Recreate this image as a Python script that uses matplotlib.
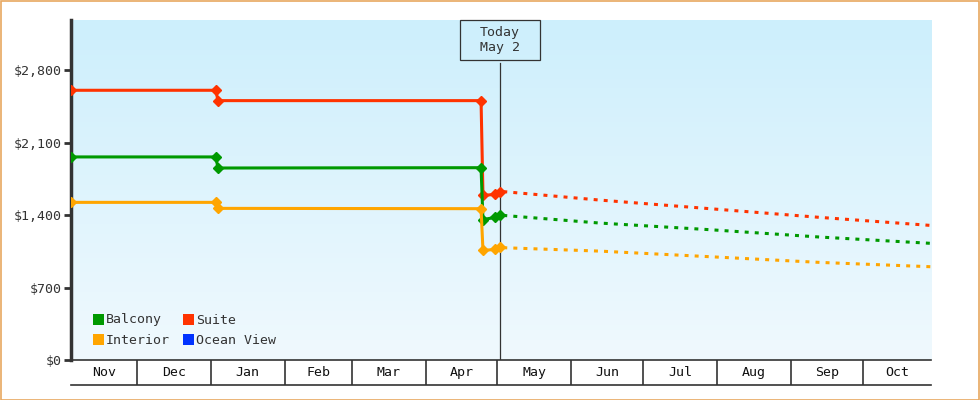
import numpy as np
import matplotlib
matplotlib.use("Agg")
import matplotlib.pyplot as plt
from matplotlib.patches import Rectangle

plt.rcParams['font.family'] = ['DejaVu Sans Mono']

# days counted from Nov 1
month_labels = ['Nov', 'Dec', 'Jan', 'Feb', 'Mar', 'Apr',
                'May', 'Jun', 'Jul', 'Aug', 'Sep', 'Oct']
month_starts = [0, 30, 61, 92, 120, 151, 181, 212, 242, 273, 304, 334, 365]
today_day = 182

# observed prices (solid, with markers)
hist_days = [2.5, 63.2, 64, 174.2, 175, 180, 182]
suite_hist = [2606, 2606, 2506, 2506, 1590, 1600, 1627]
balcony_hist = [1962, 1962, 1855, 1858, 1357, 1377, 1400]
interior_hist = [1523, 1523, 1465, 1462, 1059, 1068, 1088]

# projected prices (dotted)
proj_days = [183.5, 224, 270, 316, 362.6]
suite_proj = [1627, 1545, 1462, 1378, 1300]
balcony_proj = [1397, 1323, 1259, 1188, 1127]
interior_proj = [1085, 1052, 998, 943, 901]

yticks = [0, 700, 1400, 2100, 2800]
ytick_labels = ['$0', '$700', '$1,400', '$2,100', '$2,800']

legend_names = ['Balcony', 'Suite', 'Interior', 'Ocean View']
legend_colors = ['#009900', '#ff3300', '#ffa500', '#0033ff']

W, H = 980, 400
fig = plt.figure(figsize=(9.8, 4.0), dpi=100)
fig.patches.append(Rectangle((0.5 / W, 0.5 / H), 1 - 1.5 / W, 1 - 1.5 / H,
                             transform=fig.transFigure, fill=False,
                             edgecolor='#e8a860', linewidth=1.2))

ax = fig.add_axes([71 / W, 40 / H, 860 / W, 340 / H])
x0, x1 = 2.5, 362.6
y0, y1 = 0, 3285
ax.set_xlim(x0, x1)
ax.set_ylim(y0, y1)

# background gradient, darker at the top
grad = np.linspace(0, 1, 256).reshape(-1, 1)
cmap = matplotlib.colors.LinearSegmentedColormap.from_list('bg', ['#cdeffc', '#f0f9fe'])
ax.imshow(grad, aspect='auto', cmap=cmap, extent=[x0, x1, y0, y1],
          origin='upper', zorder=0)

# today marker line, from under the box down to the axis
ax.plot([today_day, today_day], [y0, 2870], color='#333333',
        linewidth=0.9, zorder=2)

series = [(suite_hist, suite_proj, '#ff3300'),
          (balcony_hist, balcony_proj, '#009900'),
          (interior_hist, interior_proj, '#ffa500')]
for hist, proj, col in series:
    ax.plot(hist_days, hist, color=col, linewidth=2.2, marker='D',
            markersize=5, zorder=3)
    ax.plot(proj_days, proj, color=col, linewidth=2.2,
            linestyle=(0, (1.3, 2.0)), zorder=3)

# Today box
fig.patches.append(Rectangle((460 / W, 1 - 60 / H), 80 / W, 40 / H,
                             transform=fig.transFigure, fill=False,
                             edgecolor='#333333', linewidth=0.9, zorder=4))
fig.text(500 / W, 1 - 40 / H, 'Today\nMay 2', ha='center', va='center',
         fontsize=9.5, color='#333333', linespacing=1.25, zorder=4)

# axes styling
for s in ['top', 'right', 'bottom']:
    ax.spines[s].set_visible(False)
ax.spines['left'].set_color('#333333')
ax.spines['left'].set_linewidth(2.5)
ax.set_yticks(yticks)
ax.set_yticklabels(ytick_labels)
ax.tick_params(axis='y', length=5, width=2, color='#333333',
               labelsize=9.5, labelcolor='#333333', pad=2)
ax.set_xticks([])

# legend
for i, (name, col) in enumerate(zip(legend_names, legend_colors)):
    row, c = divmod(i, 2)
    lx = 93 + c * 90
    ly = 320 + row * 20
    fig.patches.append(Rectangle((lx / W, 1 - (ly + 5) / H), 11 / W, 11 / H,
                                 transform=fig.transFigure, facecolor=col,
                                 edgecolor='none', zorder=5))
    fig.text((lx + 13) / W, 1 - ly / H, name, fontsize=9.5, color='#333333',
             va='center', ha='left', zorder=5)

# month band
bx = fig.add_axes([71 / W, 15 / H, 860 / W, 25 / H], sharex=ax)
bx.set_ylim(0, 1)
bx.axis('off')
bx.plot([x0, x1], [1, 1], color='#333333', linewidth=1.2, clip_on=False)
bx.plot([x0, x1], [0, 0], color='#333333', linewidth=1.2, clip_on=False)
for m in month_starts:
    if x0 < m < x1:
        bx.plot([m, m], [0, 1], color='#333333', linewidth=1.2)
for lab, a, b in zip(month_labels, month_starts[:-1], month_starts[1:]):
    a, b = max(a, x0), min(b, x1)
    bx.text((a + b) / 2, 0.5, lab, ha='center', va='center',
            fontsize=9.5, color='#111111')
ax.set_xlim(x0, x1)

fig.savefig('out.png', dpi=100)
